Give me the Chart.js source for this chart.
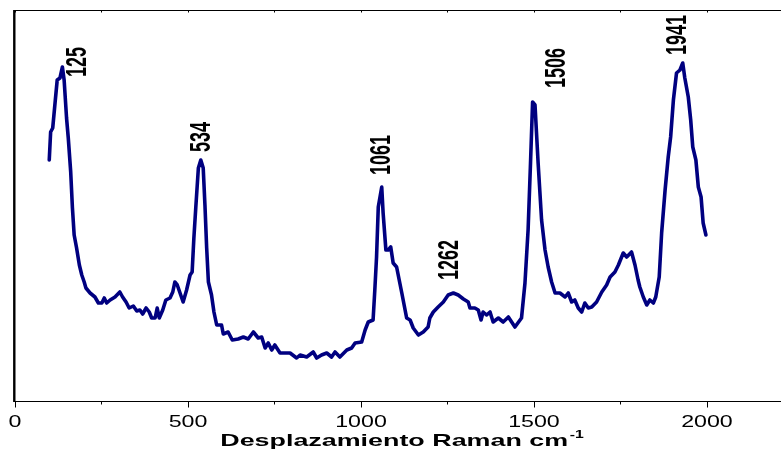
<!DOCTYPE html>
<html>
<head>
<meta charset="utf-8">
<script src="https://cdn.jsdelivr.net/npm/chart.js@4.4.0/dist/chart.umd.min.js"></script>
<style>
html, body { margin: 0; padding: 0; background: #fff; }
#wrap { width: 781px; height: 451px; }
</style>
</head>
<body>
<div id="wrap"><canvas id="mycanvas" width="781" height="451"></canvas></div>
<script>
// Raman shift (cm-1) and intensity (a.u.)
var shift = [99,103,109,116,122,130,137,142,149,154,161,166,171,178,186,193,200,205,217,231,
  241,251,258,265,275,289,303,311,321,330,342,352,361,369,379,388,395,405,411,417,
  427,436,448,456,462,469,477,486,496,506,512,517,523,530,537,544,549,554,559,568,
  575,583,597,602,616,628,645,660,674,689,703,713,723,732,742,751,766,780,795,814,
  824,843,862,872,886,901,915,925,939,959,973,983,1002,1012,1021,1035,1040,1045,1050,1060,
  1064,1072,1079,1086,1093,1103,1118,1132,1142,1151,1166,1180,1194,1199,1209,1223,1238,1252,1267,1281,
  1296,1310,1315,1329,1339,1347,1353,1363,1373,1382,1397,1411,1426,1445,1464,1474,1483,1490,1496,1503,
  1512,1522,1532,1541,1551,1561,1575,1590,1599,1609,1618,1628,1638,1647,1657,1667,1681,1696,1710,1720,
  1734,1744,1758,1768,1782,1792,1801,1806,1816,1826,1835,1845,1852,1862,1869,1879,1888,1895,1903,1912,
  1922,1930,1936,1946,1953,1959,1968,1975,1983,1989,1997];
var intensity = [241,269,273,299,321,323,334,321,283,263,229,193,166,153,136,126,119,113,108,104,
  98,98,103,98,101,104,109,104,99,93,95,90,91,87,93,89,83,83,93,83,
  91,101,103,109,119,116,108,99,111,126,129,163,196,233,241,233,196,153,119,106,
  89,76,76,67,69,61,62,64,62,69,63,64,53,58,51,56,48,48,48,43,
  46,44,49,43,46,48,44,49,44,51,53,58,59,71,79,81,111,144,194,214,
  188,151,151,154,138,134,108,83,81,73,66,69,74,83,89,94,99,106,108,106,
  102,99,93,93,91,81,89,86,89,79,83,79,84,74,83,118,171,238,299,296,
  238,181,151,134,119,108,108,104,108,99,101,93,89,98,93,94,99,109,116,124,
  129,136,148,144,149,136,121,114,104,96,101,98,104,124,168,211,244,264,301,328,
  331,338,323,304,281,254,241,214,204,178,166];

var xTickLabels = ['0', '500', '1000', '1500', '2000'];
var xMinorTicks = [250, 750, 1250, 1750];
var peakLabels = ['125', '534', '1061', '1262', '1506', '1941'];
var peakLabelX = [181, 542, 1062, 1256, 1566, 1917];
var peakLabelY = [324, 249, 226, 121, 313, 346];
var xTitle = 'Desplazamiento Raman cm';
var xTitleSup = '-1';

var points = shift.map(function (s, i) { return {x: s, y: intensity[i]}; });

// axes, ticks and texts (the original picture is stretched sideways)
var decor = {
    id: 'decor',
    afterDraw: function (chart) {
        var ctx = chart.ctx, a = chart.chartArea;
        var xs = chart.scales.x;
        ctx.save();
        ctx.strokeStyle = '#000';
        ctx.fillStyle = '#000';

        ctx.lineWidth = 1;
        ctx.beginPath();
        ctx.moveTo(a.left, a.top + 0.5); ctx.lineTo(a.right, a.top + 0.5);
        ctx.moveTo(a.left, a.bottom + 0.5); ctx.lineTo(a.right, a.bottom + 0.5);
        xTickLabels.forEach(function (t) {
            var px = Math.round(xs.getPixelForValue(Number(t))) + 0.5;
            ctx.moveTo(px, a.bottom); ctx.lineTo(px, a.bottom + 6.5);
            ctx.moveTo(px, a.top); ctx.lineTo(px, a.top + 2.5);
        });
        xMinorTicks.forEach(function (t) {
            var px = Math.round(xs.getPixelForValue(t)) + 0.5;
            ctx.moveTo(px, a.bottom); ctx.lineTo(px, a.bottom + 3.5);
            ctx.moveTo(px, a.top); ctx.lineTo(px, a.top + 2.5);
        });
        ctx.stroke();

        ctx.lineWidth = 2.4;
        ctx.beginPath();
        ctx.moveTo(a.left - 0.7, a.top); ctx.lineTo(a.left - 0.7, a.bottom + 1);
        ctx.stroke();

        // tick labels
        ctx.font = '16px "Liberation Sans", Arial, sans-serif';
        ctx.textAlign = 'center';
        ctx.textBaseline = 'alphabetic';
        xTickLabels.forEach(function (t) {
            ctx.save();
            ctx.translate(xs.getPixelForValue(Number(t)), a.bottom + 26);
            ctx.scale(1.45, 1);
            ctx.fillText(t, 0, 0);
            ctx.restore();
        });

        // axis title
        var sx = 1.58;
        ctx.font = 'bold 17px "Liberation Sans", Arial, sans-serif';
        var w1 = ctx.measureText(xTitle).width;
        ctx.font = 'bold 10px "Liberation Sans", Arial, sans-serif';
        var w2 = ctx.measureText(xTitleSup).width;
        var x0 = (a.left + a.right) / 2 + 4 - (w1 + w2 + 1) * sx / 2;
        ctx.save();
        ctx.translate(x0, a.bottom + 45);
        ctx.scale(sx, 1);
        ctx.textAlign = 'left';
        ctx.font = 'bold 17px "Liberation Sans", Arial, sans-serif';
        ctx.fillText(xTitle, 0, 0);
        ctx.font = 'bold 10px "Liberation Sans", Arial, sans-serif';
        ctx.fillText(xTitleSup, w1 + 1, -8);
        ctx.restore();

        // peak labels
        var ys = chart.scales.y;
        ctx.font = 'bold 18px "Liberation Sans", Arial, sans-serif';
        ctx.textAlign = 'left';
        ctx.textBaseline = 'middle';
        peakLabels.forEach(function (t, i) {
            ctx.save();
            ctx.translate(xs.getPixelForValue(peakLabelX[i]), ys.getPixelForValue(peakLabelY[i]));
            ctx.scale(1.6, 1);
            ctx.rotate(-Math.PI / 2);
            ctx.fillText(t, 0, 0);
            ctx.restore();
        });
        ctx.restore();
    }
};

var ctx = document.getElementById('mycanvas');
var spectrum = new Chart(ctx, {
    type: 'line',
    data: {
        datasets: [{
            label: 'Raman',
            data: points,
            borderColor: '#000080',
            borderWidth: 3.6,
            borderJoinStyle: 'round',
            borderCapStyle: 'round',
            pointRadius: 0,
            tension: 0,
            fill: false
        }]
    },
    options: {
        responsive: false,
        animation: false,
        layout: {padding: {left: 15, top: 10, right: 0, bottom: 50}},
        plugins: {legend: {display: false}, tooltip: {enabled: false}},
        scales: {
            x: {type: 'linear', min: 0, max: 2214, display: false},
            y: {min: 0, max: 391, display: false}
        }
    },
    plugins: [decor]
});
</script>
</body>
</html>
